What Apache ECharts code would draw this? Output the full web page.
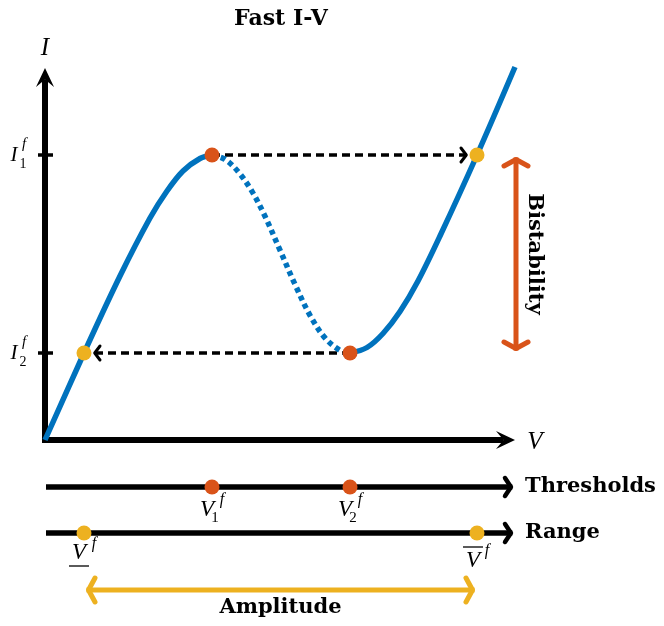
<!DOCTYPE html>
<html><head><meta charset="utf-8">
<script src="https://cdn.jsdelivr.net/npm/echarts@6/dist/echarts.min.js"></script>
<style>html,body{margin:0;padding:0;background:#fff}#c{width:664px;height:626px}</style>
</head><body><div id="c"></div>
<script>
// ---------------- data (schematic units: V horizontal, I vertical) ----------------
const branchLow = [[0,0],[3.9,8.7],[7.5,16.4],[10.5,22.2],[12.2,24.9],[13.8,26.9],[15.5,28.15],[16.7,28.5]];
const branchUnstable = [[16.7,28.5],[18,28.06],[19.3,26.85],[20.7,24.86],[22,22.37],[23.5,18.99],[25,15.56],[26.5,12.47],[28,10.21],[29.5,8.96],[30.5,8.7]];
const branchHigh = [[30.5,8.7],[32.2,9.25],[33.8,10.65],[35.5,12.85],[37.3,15.9],[39.5,20.4],[43.2,28.5],[47,37.3]];
const thresholdV = [16.7, 30.5];      // V1^f, V2^f
const thresholdI = [28.5, 8.7];       // I1^f, I2^f
const rangeV = [3.9, 43.2];           // underline V^f, overline V^f
const tickLabels = ['1', '2'];
const axisEnd = {V: 47, I: 37.2};
const rowLevel = {thresholds: -4.7, range: -9.3, amplitude: -15};
const bistabilityV = 47.1;
const rowNames = ['Thresholds', 'Range'];

// ---------------- styles ----------------
const BLUE = '#0072BD', ORANGE = '#D95319', YELLOW = '#EDB120', BLACK = '#000';
const italic = s => `italic ${s}px "Liberation Serif"`;
const roman = s => `${s}px "Liberation Serif"`;
const bold = s => `bold ${s}px "DejaVu Serif"`;

function arrowSeries(name, segs, st) {
  return {
    type: 'custom', name, coordinateSystem: 'cartesian2d', clip: false, silent: true, z: st.z || 2,
    data: segs, encode: {x: [0, 2], y: [1, 3]},
    renderItem(params, api) {
      let a = api.coord([api.value(0), api.value(1)]);
      let b = api.coord([api.value(2), api.value(3)]);
      const dx = b[0] - a[0], dy = b[1] - a[1], len = Math.hypot(dx, dy);
      const ux = dx / len, uy = dy / len;
      const i0 = st.insetStart || 0, i1 = st.insetEnd || 0;
      a = [a[0] + ux * i0, a[1] + uy * i0];
      b = [b[0] - ux * i1, b[1] - uy * i1];
      const back = st.filled ? st.L * 0.6 : st.width * 0.5;
      let s0 = a.slice(), s1 = b.slice();
      if (st.headStart) s0 = [a[0] + ux * back, a[1] + uy * back];
      if (st.headEnd) s1 = [b[0] - ux * back, b[1] - uy * back];
      if (st.extend) { s0 = [s0[0] - ux * st.extend, s0[1] - uy * st.extend]; }
      const kids = [{type: 'line', shape: {x1: s0[0], y1: s0[1], x2: s1[0], y2: s1[1]},
        style: {stroke: st.color, lineWidth: st.width, lineDash: st.dash || null, lineCap: 'butt'}}];
      const head = (t, ex, ey) => {
        const L = st.L, W = st.W, px = -ey, py = ex;
        const w1 = [t[0] - ex * L + px * W, t[1] - ey * L + py * W];
        const w2 = [t[0] - ex * L - px * W, t[1] - ey * L - py * W];
        if (st.filled) {
          const n = [t[0] - ex * L * 0.6, t[1] - ey * L * 0.6];
          return {type: 'polygon', shape: {points: [t, w1, n, w2]}, style: {fill: st.color}};
        }
        const tt = [t[0] - ex * st.hw * 0.9, t[1] - ey * st.hw * 0.9];
        return {type: 'polyline', shape: {points: [w1, tt, w2]},
          style: {stroke: st.color, lineWidth: st.hw, fill: null, lineJoin: 'round', lineCap: 'round'}};
      };
      if (st.headEnd) kids.push(head(b, ux, uy));
      if (st.headStart) kids.push(head(a, -ux, -uy));
      return {type: 'group', children: kids};
    }
  };
}

// text labels anchored on data points
const labelDefs = [];
thresholdI.forEach((iv, k) => labelDefs.push({at: [0, iv], parts: [
  {t: 'I', dx: -31, dy: 0, font: italic(21)},
  {t: tickLabels[k], dx: -22, dy: 9, font: roman(14)},
  {t: 'f', dx: -21, dy: -11, font: italic(15)}]}));
thresholdV.forEach((vv, k) => labelDefs.push({at: [vv, rowLevel.thresholds], parts: [
  {t: 'V', dx: -5, dy: 23, font: italic(23)},
  {t: tickLabels[k], dx: 3, dy: 31, font: roman(15)},
  {t: 'f', dx: 10, dy: 13, font: italic(16)}]}));
labelDefs.push({at: [rangeV[0], rowLevel.range], parts: [
  {t: 'V', dx: -5, dy: 20, font: italic(23)},
  {t: 'f', dx: 10, dy: 11, font: italic(16)}], rules: [{x1: -15, x2: 5, dy: 33}]});
labelDefs.push({at: [rangeV[1], rowLevel.range], parts: [
  {t: 'V', dx: -4, dy: 28, font: italic(23)},
  {t: 'f', dx: 10, dy: 18, font: italic(16)}], rules: [{x1: -14, x2: 6, dy: 14}]});
labelDefs.push({at: [axisEnd.V, 0], parts: [{t: 'V', dx: 20, dy: 2, font: italic(25)}]});
labelDefs.push({at: [0, axisEnd.I], parts: [{t: 'I', dx: 0, dy: -20, font: italic(25)}]});
labelDefs.push({at: [axisEnd.V, rowLevel.thresholds], parts: [{t: rowNames[0], dx: 10, dy: 0, font: bold(21), align: 'left'}]});
labelDefs.push({at: [axisEnd.V, rowLevel.range], parts: [{t: rowNames[1], dx: 10, dy: 0, font: bold(21), align: 'left'}]});
labelDefs.push({at: [(rangeV[0] + rangeV[1]) / 2, rowLevel.amplitude], parts: [{t: 'Amplitude', dx: 0, dy: 18, font: bold(21)}]});
labelDefs.push({at: [bistabilityV, (thresholdI[0] + thresholdI[1]) / 2], parts: [{t: 'Bistability', dx: 18, dy: 0, font: bold(21), rot: -Math.PI / 2}]});

const labelSeries = {
  type: 'custom', coordinateSystem: 'cartesian2d', clip: false, silent: true, z: 10,
  data: labelDefs.map(d => d.at),
  renderItem(params, api) {
    const d = labelDefs[params.dataIndex];
    const p = api.coord([api.value(0), api.value(1)]);
    const kids = d.parts.map(pt => ({
      type: 'text', x: p[0] + pt.dx, y: p[1] + pt.dy, rotation: pt.rot || 0,
      style: {text: pt.t, font: pt.font, fill: '#000', align: pt.align || 'center', verticalAlign: 'middle',
              textAlign: pt.align || 'center', textVerticalAlign: 'middle'}
    }));
    (d.rules || []).forEach(r => kids.push({type: 'line',
      shape: {x1: p[0] + r.x1, y1: p[1] + r.dy, x2: p[0] + r.x2, y2: p[1] + r.dy},
      style: {stroke: '#000', lineWidth: 1.3}}));
    return {type: 'group', children: kids};
  }
};

const dot = (pts, color) => ({type: 'scatter', data: pts, symbol: 'circle', symbolSize: 15, z: 8, silent: true,
  itemStyle: {color, opacity: 1}});
const curve = (pts, dashed) => ({type: 'line', data: pts, smooth: 0.35, showSymbol: false,
  z: 5, silent: true, lineStyle: {color: BLUE, width: 5.5, type: dashed ? [5, 4] : 'solid', cap: 'butt'}});

const option = {
  animation: false,
  backgroundColor: '#fff',
  title: {text: 'Fast I-V', left: 229, top: 3,
    textStyle: {fontFamily: 'DejaVu Serif', fontWeight: 'bold', fontSize: 22, color: '#000'}},
  grid: {left: 0, right: 0, top: 0, bottom: 0, containLabel: false},
  xAxis: {type: 'value', min: -4.5, max: 61.9, show: false},
  yAxis: {type: 'value', min: -18.6, max: 44, show: false},
  series: [
    arrowSeries('axes', [[0, 0, axisEnd.V, 0], [0, 0, 0, axisEnd.I]],
      {color: BLACK, width: 6, filled: true, headEnd: true, L: 19, W: 9, extend: 3, z: 3}),
    arrowSeries('ticks', [[-0.7, thresholdI[0], 0.8, thresholdI[0]], [-0.7, thresholdI[1], 0.8, thresholdI[1]]],
      {color: BLACK, width: 3.5, z: 3}),
    arrowSeries('rows', [[0.1, rowLevel.thresholds, axisEnd.V, rowLevel.thresholds], [0.1, rowLevel.range, axisEnd.V, rowLevel.range]],
      {color: BLACK, width: 5.5, headEnd: true, L: 10, W: 9, hw: 4.5}),
    arrowSeries('jumps', [[thresholdV[0], thresholdI[0], rangeV[1], thresholdI[0]], [thresholdV[1], thresholdI[1], rangeV[0], thresholdI[1]]],
      {color: BLACK, width: 3.5, dash: [8, 5], headEnd: true, L: 8, W: 7, hw: 3, insetEnd: 8}),
    arrowSeries('bistability', [[bistabilityV, thresholdI[0], bistabilityV, thresholdI[1]]],
      {color: ORANGE, width: 5, headEnd: true, headStart: true, L: 11, W: 12, hw: 5}),
    arrowSeries('amplitude', [[rangeV[0], rowLevel.amplitude, rangeV[1], rowLevel.amplitude]],
      {color: YELLOW, width: 5, headEnd: true, headStart: true, L: 11, W: 12, hw: 5}),
    curve(branchLow, false),
    curve(branchUnstable, true),
    curve(branchHigh, false),
    dot([[thresholdV[0], thresholdI[0]], [thresholdV[1], thresholdI[1]],
         [thresholdV[0], rowLevel.thresholds], [thresholdV[1], rowLevel.thresholds]], ORANGE),
    dot([[rangeV[0], thresholdI[1]], [rangeV[1], thresholdI[0]],
         [rangeV[0], rowLevel.range], [rangeV[1], rowLevel.range]], YELLOW),
    labelSeries
  ]
};
echarts.init(document.getElementById('c'), null, {renderer: 'canvas'}).setOption(option);
</script></body></html>
